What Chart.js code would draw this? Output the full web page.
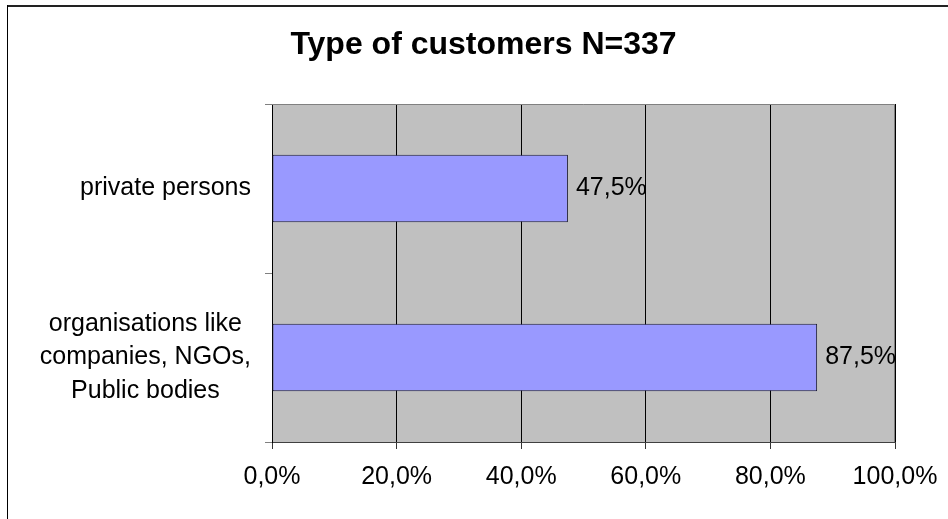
<!DOCTYPE html>
<html>
<head>
<meta charset="utf-8">
<script src="https://cdn.jsdelivr.net/npm/chart.js@4"></script>
<style>
  html, body { margin: 0; padding: 0; background: #fff; }
  #wrap { width: 948px; height: 519px; }
</style>
</head>
<body>
<div id="wrap"><canvas id="myChart" width="948" height="519"></canvas></div>
<script>
const titleText = "Type of customers N=337";
const categories = [
  "private persons",
  ["organisations like", "companies, NGOs,", "Public bodies"],
];
const shares = [47.5, 87.5];
const xMin = 0;
const xMax = 100;
const xStep = 20;

const fontFamily = "'Liberation Sans', Arial, sans-serif";

// comma as decimal separator, one decimal
function pct(v) {
  return v.toFixed(1).replace(".", ",") + "%";
}

// frame, grey plot background and the grey top/right edges
const framePlugin = {
  id: "frame",
  beforeDraw(chart) {
    const c = chart.ctx;
    const a = chart.chartArea;
    c.save();
    c.fillStyle = "#c0c0c0";
    c.fillRect(a.left, a.top, a.right - a.left, a.bottom - a.top);
    c.fillStyle = "#222";
    c.fillRect(7, 5, chart.width - 7, 2);
    c.fillStyle = "#000";
    c.fillRect(7, 5, 1, chart.height - 5);
    c.restore();
  },
  beforeDatasetsDraw(chart) {
    const c = chart.ctx;
    const a = chart.chartArea;
    c.save();
    c.strokeStyle = "#808080";
    c.lineWidth = 1;
    c.beginPath();
    c.moveTo(a.left, a.top + 0.5);
    c.lineTo(a.right - 0.5, a.top + 0.5);
    c.lineTo(a.right - 0.5, a.bottom);
    c.stroke();
    c.restore();
  },
};

// category labels: block right-aligned to the axis, lines centred in the block
const catLabelPlugin = {
  id: "catLabels",
  afterDraw(chart) {
    const c = chart.ctx;
    const y = chart.scales.y;
    const lineH = 33.5;
    c.save();
    c.font = "25px " + fontFamily;
    c.fillStyle = "#000";
    c.textAlign = "center";
    c.textBaseline = "middle";
    const right = y.right - 7 - 14;
    categories.forEach((lab, i) => {
      const lines = Array.isArray(lab) ? lab : [lab];
      const w = Math.max(...lines.map((l) => c.measureText(l).width));
      const cx = right - w / 2;
      const cy = y.getPixelForValue(i);
      lines.forEach((l, j) => {
        c.fillText(l, cx, cy + (j - (lines.length - 1) / 2) * lineH);
      });
    });
    c.restore();
  },
};

// value labels to the right of each bar
const valueLabelPlugin = {
  id: "valueLabels",
  afterDatasetsDraw(chart) {
    const c = chart.ctx;
    const meta = chart.getDatasetMeta(0);
    c.save();
    c.font = "25px " + fontFamily;
    c.fillStyle = "#000";
    c.textAlign = "left";
    c.textBaseline = "middle";
    meta.data.forEach((bar, i) => {
      c.fillText(pct(shares[i]), bar.x + 8, bar.y);
    });
    c.restore();
  },
};

const ctx = document.getElementById("myChart").getContext("2d");
const myChart = new Chart(ctx, {
  type: "bar",
  data: {
    labels: categories,
    datasets: [
      {
        data: shares,
        backgroundColor: "#9999ff",
        borderColor: "#1a1a33",
        borderWidth: 1,
        borderSkipped: false,
        barPercentage: 0.4,
        categoryPercentage: 1,
      },
    ],
  },
  options: {
    indexAxis: "y",
    responsive: false,
    animation: false,
    devicePixelRatio: 1,
    layout: { padding: { left: 72, right: 53, top: 26, bottom: 0 } },
    plugins: {
      legend: { display: false },
      tooltip: { enabled: false },
      title: {
        display: true,
        text: titleText,
        color: "#000",
        font: { family: fontFamily, size: 32, weight: "bold", lineHeight: 1.2 },
        padding: { top: 0, bottom: 39.6 },
      },
    },
    scales: {
      x: {
        type: "linear",
        min: xMin,
        max: xMax,
        ticks: {
          stepSize: xStep,
          color: "#000",
          padding: 13,
          font: { family: fontFamily, size: 25 },
          callback: (v) => pct(v),
          maxRotation: 0,
        },
        grid: {
          color: "#000",
          tickColor: "#333",
          tickLength: 7,
          lineWidth: 1,
        },
        border: { color: "#404040", width: 1 },
        afterFit: (s) => {
          s.height = 77;
          s.paddingRight = 40;
        },
      },
      y: {
        type: "category",
        offset: true,
        ticks: { display: false },
        grid: {
          offset: true,
          drawOnChartArea: false,
          tickLength: 7,
          tickColor: "#808080",
        },
        border: { color: "#000", width: 1 },
        afterFit: (s) => { s.width = 200; },
      },
    },
  },
  plugins: [framePlugin, catLabelPlugin, valueLabelPlugin],
});
</script>
</body>
</html>
